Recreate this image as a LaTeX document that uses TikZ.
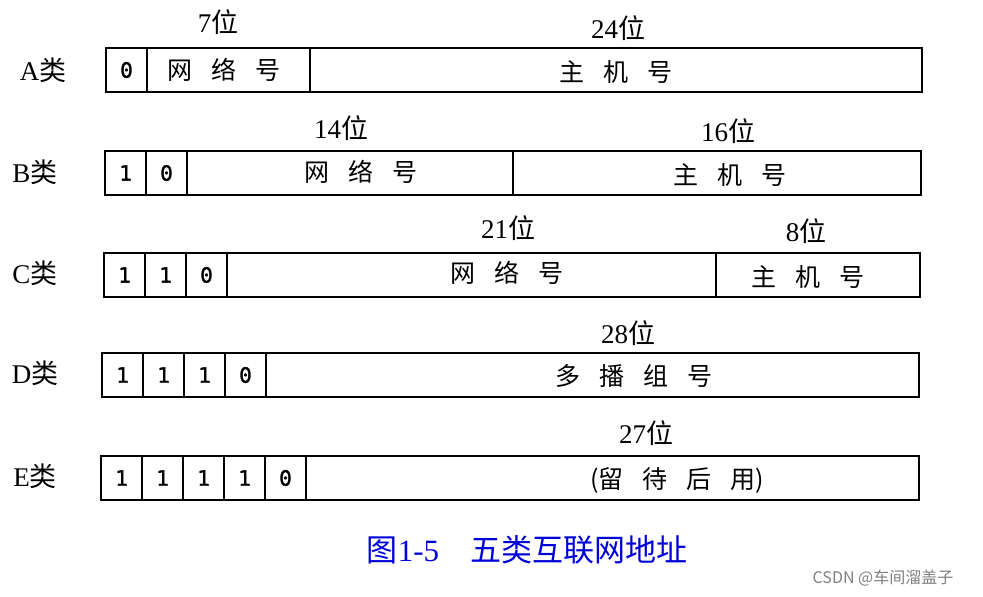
\documentclass[tikz,border=0pt]{standalone}
\usepackage{fontspec}
\setmainfont{Liberation Serif}
\newfontfamily\cjk{Noto Sans CJK SC}
\newfontfamily\digf{DejaVu Sans Mono}[FakeBold=1.5]
\newcommand\gp{\hspace{0.75em}}
\begin{document}
\begin{tikzpicture}[x=1pt,y=-1pt,
  cell/.style={draw,line width=1.6pt},
  lbl/.style={font=\fontsize{27}{27}\selectfont},
  bitt/.style={font=\fontsize{27}{27}\selectfont},
  fld/.style={font=\cjk\fontsize{25}{25}\selectfont},
  dg/.style={font=\digf\fontsize{21}{21}\selectfont}]
\useasboundingbox[fill=white] (0,0) rectangle (983,597);
% A
\node[lbl] (la) at (43,70) {A\cjk 类};
\draw[cell] (106,48) rectangle (922,92);
\draw[cell] (147,48) -- (147,92) (310,48) -- (310,92);
\node[dg] (a0) at (126.5,70) {0};
\node[fld] (an) at (224,70) {网\gp 络\gp 号};
\node[fld] (ah) at (616,72) {主\gp 机\gp 号};
\node[bitt] (a7) at (218,22) {7\cjk 位};
\node[bitt] (a24) at (618,28) {24\cjk 位};
% B
\node[lbl] (lb) at (35,172) {B\cjk 类};
\draw[cell] (105,151) rectangle (921,195);
\draw[cell] (146,151) -- (146,195) (187,151) -- (187,195) (513,151) -- (513,195);
\node[dg] (b1) at (125.5,173) {1};
\node[dg] (b2) at (166.5,173) {0};
\node[fld] (bn) at (361,172) {网\gp 络\gp 号};
\node[fld] (bh) at (730,175) {主\gp 机\gp 号};
\node[bitt] (b14) at (341,128) {14\cjk 位};
\node[bitt] (b16) at (728,131) {16\cjk 位};
% C
\node[lbl] (lc) at (35,273) {C\cjk 类};
\draw[cell] (104,253) rectangle (920,297);
\draw[cell] (145,253) -- (145,297) (186,253) -- (186,297) (227,253) -- (227,297) (716,253) -- (716,297);
\node[dg] (c1) at (124.5,275) {1};
\node[dg] (c2) at (165.5,275) {1};
\node[dg] (c3) at (206.5,275) {0};
\node[fld] (cn) at (507,273) {网\gp 络\gp 号};
\node[fld] (ch) at (808,277) {主\gp 机\gp 号};
\node[bitt] (c21) at (508,228) {21\cjk 位};
\node[bitt] (c8) at (806,231) {8\cjk 位};
% D
\node[lbl] (ld) at (35,373) {D\cjk 类};
\draw[cell] (102,353) rectangle (919,397);
\draw[cell] (143,353) -- (143,397) (184,353) -- (184,397) (225,353) -- (225,397) (266,353) -- (266,397);
\node[dg] (d1) at (122.5,375) {1};
\node[dg] (d2) at (163.5,375) {1};
\node[dg] (d3) at (204.5,375) {1};
\node[dg] (d4) at (245.5,375) {0};
\node[fld] (dn) at (634,376) {多\gp 播\gp 组\gp 号};
\node[bitt] (d28) at (628,333) {28\cjk 位};
% E
\node[lbl] (le) at (35,476) {E\cjk 类};
\draw[cell] (101,456) rectangle (919,500);
\foreach \x in {142,183,224,265,306} \draw[cell] (\x,456) -- (\x,500);
\node[dg] (e1) at (121.5,478) {1};
\node[dg] (e2) at (162.5,478) {1};
\node[dg] (e3) at (203.5,478) {1};
\node[dg] (e4) at (244.5,478) {1};
\node[dg] (e5) at (285.5,478) {0};
\node[fld] (en) at (677,480) {(留\gp 待\gp 后\gp 用)};
\node[bitt] (e27) at (646,433) {27\cjk 位};
% caption
\node[text=blue!85!black,font=\fontsize{31}{31}\selectfont] (cap) at (527,550) {\cjk 图\rmfamily 1-5\quad\cjk 五类互联网地址};
\node[text=gray,font=\cjk\fontsize{16}{16}\selectfont] (wm) at (883,578) {CSDN @车间溜盖子};
\end{tikzpicture}
\end{document}
